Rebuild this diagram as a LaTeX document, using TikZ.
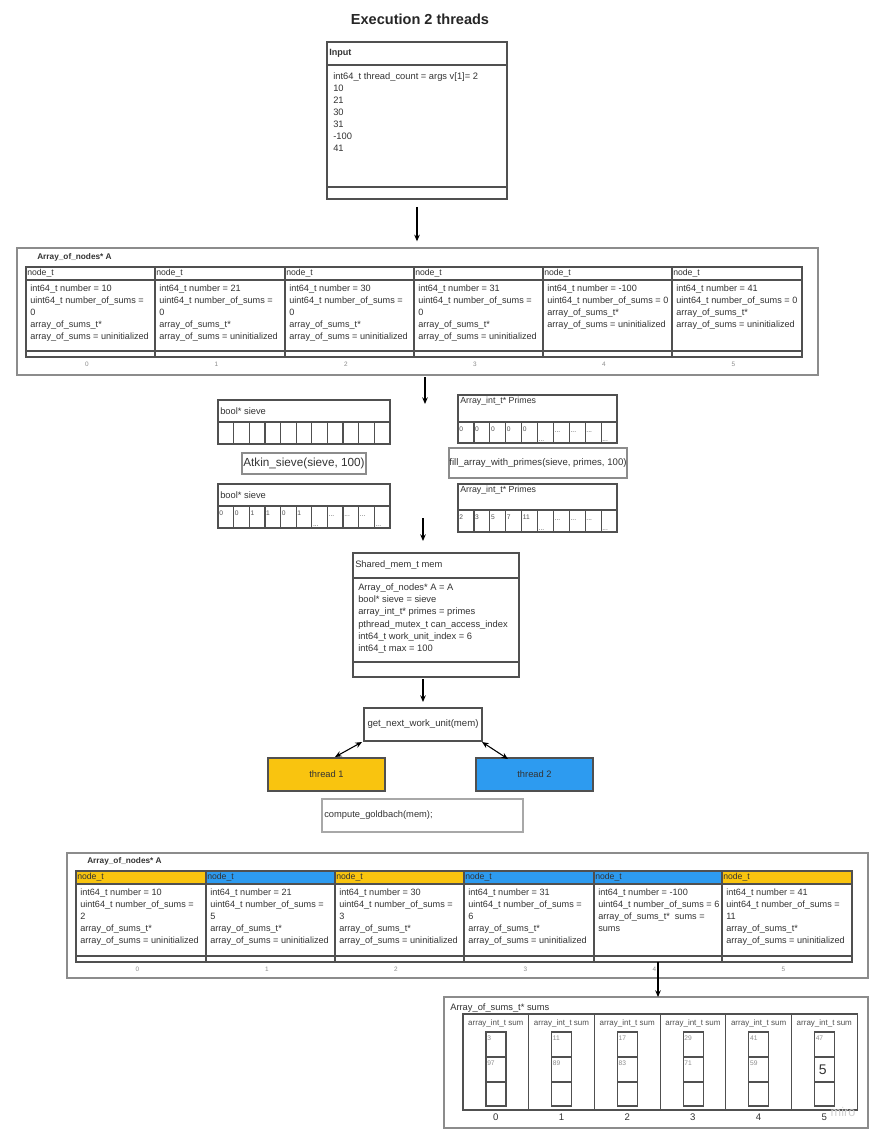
\documentclass[tikz,border=0pt]{standalone}
\usepackage{fontspec}
\setmainfont{Liberation Sans}
\usetikzlibrary{calc,arrows.meta}

\definecolor{ink}{HTML}{333333}
\definecolor{rule}{HTML}{505050}
\definecolor{softrule}{HTML}{8C8C8C}
\definecolor{faint}{HTML}{A8A8A8}
\definecolor{tyellow}{HTML}{F9C40F}
\definecolor{tblue}{HTML}{2D9BF0}

\newcommand{\fs}[2]{\fontsize{#1pt}{#2pt}\selectfont}
\newcommand{\dd}{...}

\tikzset{
  bx/.style={draw=rule, line width=1pt, inner sep=0pt, outer sep=0pt, anchor=north west},
  softbx/.style={draw=softrule, line width=0.9pt},
  btxt/.style={anchor=north west, inner sep=0pt, align=left, text=ink, font=\fs{6.85}{9.1}},
  lbl/.style={anchor=west, inner sep=0pt, text=ink, font=\fs{7}{8.4}},
  boldlbl/.style={anchor=west, inner sep=0pt, text=ink, font=\bfseries\fs{6.2}{7.4}},
  hdr/.style={anchor=west, inner sep=0pt, text=ink, font=\fs{6.5}{7.8}},
  idx/.style={inner sep=0pt, text=softrule, font=\fs{4.8}{5.5}},
  celltxt/.style={anchor=west, inner sep=0pt, text=rule, font=\fs{5}{6}},
  sumlbl/.style={inner sep=0pt, text=rule, font=\fs{6}{7}},
  arr/.style={draw=black, line width=0.8pt, -{Stealth[length=5pt,width=4.2pt]}},
  dblarr/.style={draw=black, line width=0.8pt, {Stealth[length=5pt,width=4.2pt]}-{Stealth[length=5pt,width=4.2pt]}},
}

% box with its top-left corner at (x,y), size in px
\newcommand{\boxat}[6][]{%
  \node[bx,#1,minimum width={(#5)*0.75pt},minimum height={(#6)*0.75pt}] (#2) at (#3,#4) {};}

% one node_t record: name, x, width, header top, header fill, index, body height, body text
\newcommand{\nodecol}[8]{%
  \boxat[fill=#5,line width=1.15pt]{#1h}{#2}{#4}{#3}{13}
  \node[hdr] at ($(#1h.west)+(1,0)$) {node\_t};
  \boxat[line width=1.15pt]{#1b}{#2}{#4+13}{#3}{#7}
  \boxat[line width=1.15pt]{#1f}{#2}{#4+13+#7}{#3}{6}
  \node[btxt] at (#2+4,#4+17.5) {#8};
  \node[idx] at ($(#1f.south)+(-3.5,7)$) {#6};
}

% a row of array cells: prefix, x, y, cell width, cell height, value/offset list
\newcommand{\cellrow}[6]{%
  \foreach \v/\dy [count=\i] in {#6} {
    \node[bx,softbx,draw=rule,minimum width={(#4)*0.75pt},minimum height={(#5)*0.75pt}]
      (#1\i) at ({#2+(\i-1)*#4},#3) {};
    \node[celltxt] at ({#2+(\i-1)*#4+1},{#3+\dy}) {\v};
  }
}

% one array_int_t sum column: name, x, index, first value, second value
\newcommand{\sumcol}[5]{%
  \boxat[draw=rule,line width=0.9pt]{#1}{#2}{1014}{65.7}{96}
  \node[sumlbl] at (#2+32.8,1023) {array\_int\_t sum};
  \boxat[draw=rule,line width=0.9pt]{#1a}{#2+23}{1032}{20}{25}
  \boxat[draw=rule,line width=0.9pt]{#1b}{#2+23}{1057}{20}{25}
  \boxat[draw=rule,line width=0.9pt]{#1c}{#2+23}{1082}{20}{24}
  \node[celltxt,text=softrule] at ($(#1a.north west)+(1,6)$) {#4};
  \node[celltxt,text=softrule] at ($(#1b.north west)+(1,6)$) {#5};
  \node[inner sep=0pt,text=ink,font=\fs{7.2}{8}] at (#2+32.8,1117) {#3};
}

\begin{document}
\begin{tikzpicture}[x=0.75pt,y=-0.75pt]
\fill[white] (0,0) rectangle (878,1137);
\useasboundingbox (0,0) rectangle (878,1137);

% title
\node[inner sep=0pt,text=black!85,font=\bfseries\fs{10.9}{13}] (title) at (420,19) {Execution 2 threads};

% input record
\boxat{inh}{327}{42}{180}{23}
\boxat{inb}{327}{65}{180}{122}
\boxat{inf}{327}{187}{180}{12}
\node[boldlbl,font=\bfseries\fs{6.8}{8}] (inlbl) at (329,53) {Input};
\node[btxt,font=\fs{7}{9}] (intxt) at (333,72.5) {int64\_t thread\_count = args v[1]= 2\\10\\21\\30\\31\\-100\\41};

% first node array
\boxat[softbx]{frameA}{17}{248}{801}{127}
\node[boldlbl] (labelA) at (37,257) {Array\_of\_nodes* A};
\nodecol{A0}{26}{129}{267}{white}{0}{71}{int64\_t number = 10\\uint64\_t number\_of\_sums =\\0\\array\_of\_sums\_t*\\array\_of\_sums = uninitialized}
\nodecol{A1}{155}{130}{267}{white}{1}{71}{int64\_t number = 21\\uint64\_t number\_of\_sums =\\0\\array\_of\_sums\_t*\\array\_of\_sums = uninitialized}
\nodecol{A2}{285}{129}{267}{white}{2}{71}{int64\_t number = 30\\uint64\_t number\_of\_sums =\\0\\array\_of\_sums\_t*\\array\_of\_sums = uninitialized}
\nodecol{A3}{414}{129}{267}{white}{3}{71}{int64\_t number = 31\\uint64\_t number\_of\_sums =\\0\\array\_of\_sums\_t*\\array\_of\_sums = uninitialized}
\nodecol{A4}{543}{129}{267}{white}{4}{71}{int64\_t number = -100\\uint64\_t number\_of\_sums = 0\\array\_of\_sums\_t*\\array\_of\_sums = uninitialized}
\nodecol{A5}{672}{130}{267}{white}{5}{71}{int64\_t number = 41\\uint64\_t number\_of\_sums = 0\\array\_of\_sums\_t*\\array\_of\_sums = uninitialized}

\draw[arr,shorten <=6pt,shorten >=5pt] (inf.south) -- (inf.south |- frameA.north);

% sieve before and after Atkin
\coordinate (sieveIn) at (425,404);
\draw[arr,shorten <=1.5pt] (frameA.south -| sieveIn) -- (sieveIn);

\boxat[softbx,draw=rule]{sieveAh}{218}{400}{172}{22}
\node[lbl] at ($(sieveAh.west)+(2,0)$) {bool* sieve};
\foreach \i in {1,...,11} {
  \node[bx,softbx,draw=rule,minimum width={15.636*0.75pt},minimum height={22*0.75pt}]
    (sieveAc\i) at ({218+(\i-1)*15.636},422) {};
}
\boxat[softbx,draw=softrule,line width=1.2pt]{atkin}{242}{453}{124}{21}
\node[inner sep=0pt,text=ink,font=\fs{8.8}{10}] at (atkin.center) {Atkin\_sieve(sieve, 100)};
\boxat[softbx,draw=rule]{sieveBh}{218}{484}{172}{22}
\node[lbl] at ($(sieveBh.west)+(2,0)$) {bool* sieve};
\cellrow{sieveBc}{218}{506}{15.636}{22}{0/7,0/7,1/7,1/7,0/7,1/7,\dd/20,\dd/10,\dd/10,\dd/10,\dd/20}

% primes before and after filling
\boxat[softbx,draw=rule]{primesAh}{458}{395}{159}{27}
\node[lbl,font=\fs{6.6}{8}] at ($(primesAh.north west)+(2,6)$) {Array\_int\_t* Primes};
\cellrow{primesAc}{458}{422}{15.9}{21}{0/7,0/7,0/7,0/7,0/7,\dd/19,\dd/10,\dd/10,\dd/10,\dd/19}
\boxat[softbx,draw=softrule,line width=1.2pt]{fill}{449}{448}{178}{30}
\node[inner sep=0pt,text=ink,font=\fs{7.2}{8.5}] at (fill.center) {fill\_array\_with\_primes(sieve, primes, 100)};
\boxat[softbx,draw=rule]{primesBh}{458}{484}{159}{26}
\node[lbl,font=\fs{6.6}{8}] at ($(primesBh.north west)+(2,6)$) {Array\_int\_t* Primes};
\cellrow{primesBc}{458}{510}{15.9}{22}{2/7,3/7,5/7,7/7,11/7,\dd/20,\dd/10,\dd/10,\dd/10,\dd/20}

% shared memory record
\boxat[softbx,draw=rule]{memh}{353}{553}{166}{25}
\boxat[softbx,draw=rule]{memb}{353}{578}{166}{84}
\boxat[softbx,draw=rule]{memf}{353}{662}{166}{15}
\node[lbl] at ($(memh.west)+(2,0)$) {Shared\_mem\_t mem};
\node[btxt,font=\fs{7}{9.15}] (memtxt) at (358,583.5) {Array\_of\_nodes* A = A\\bool* sieve = sieve\\array\_int\_t* primes = primes\\pthread\_mutex\_t can\_access\_index\\int64\_t work\_unit\_index = 6\\int64\_t max = 100};

\coordinate (memIn) at (423,518);
\draw[arr,shorten >=9pt] (memIn) -- (memIn |- memh.north);

% work distribution
\boxat[softbx,draw=rule]{gnw}{364}{708}{118}{33}
\node[inner sep=0pt,text=ink,font=\fs{7.2}{8.5}] at (gnw.center) {get\_next\_work\_unit(mem)};
\draw[arr,shorten <=1.5pt,shorten >=4.5pt] (gnw.north |- memf.south) -- (gnw.north);

\boxat[fill=tyellow,draw=rule]{t1}{268}{758}{117}{33}
\node[inner sep=0pt,text=ink,font=\fs{7}{8}] at (t1.center) {thread 1};
\boxat[fill=tblue,draw=rule]{t2}{476}{758}{117}{33}
\node[inner sep=0pt,text=ink,font=\fs{7}{8}] at (t2.center) {thread 2};
\draw[dblarr] ($(gnw.south west)+(-2,1)$) -- ($(t1.north)+(8.5,-1)$);
\draw[dblarr] ($(gnw.south east)+(0,1)$) -- ($(t2.north)+(-26.5,1)$);

\boxat[draw=faint,line width=1pt]{cg}{322}{799}{201}{33}
\node[lbl] at ($(cg.west)+(2,0)$) {compute\_goldbach(mem);};

% node array after the threads finish
\boxat[softbx]{frameB}{67}{853}{801}{125}
\node[boldlbl] (labelB) at (87,861) {Array\_of\_nodes* A};
\nodecol{B0}{76}{130}{871}{tyellow}{0}{72}{int64\_t number = 10\\uint64\_t number\_of\_sums =\\2\\array\_of\_sums\_t*\\array\_of\_sums = uninitialized}
\nodecol{B1}{206}{129}{871}{tblue}{1}{72}{int64\_t number = 21\\uint64\_t number\_of\_sums =\\5\\array\_of\_sums\_t*\\array\_of\_sums = uninitialized}
\nodecol{B2}{335}{129}{871}{tyellow}{2}{72}{int64\_t number = 30\\uint64\_t number\_of\_sums =\\3\\array\_of\_sums\_t*\\array\_of\_sums = uninitialized}
\nodecol{B3}{464}{130}{871}{tblue}{3}{72}{int64\_t number = 31\\uint64\_t number\_of\_sums =\\6\\array\_of\_sums\_t*\\array\_of\_sums = uninitialized}
\nodecol{B4}{594}{128}{871}{tblue}{4}{72}{int64\_t number = -100\\uint64\_t number\_of\_sums = 6\\array\_of\_sums\_t*\ \ sums =\\sums}
\nodecol{B5}{722}{130}{871}{tyellow}{5}{72}{int64\_t number = 41\\uint64\_t number\_of\_sums =\\11\\array\_of\_sums\_t*\\array\_of\_sums = uninitialized}

% sums array
\boxat[softbx]{sums}{444}{997}{424}{131}
\node[lbl] (sumslbl) at (450,1008) {Array\_of\_sums\_t* sums};
\draw[arr] (B4f.south) -- (B4f.south |- sums.north);

\sumcol{S0}{463}{0}{3}{97}
\sumcol{S1}{528.7}{1}{11}{89}
\sumcol{S2}{594.4}{2}{17}{83}
\sumcol{S3}{660.1}{3}{29}{71}
\sumcol{S4}{725.8}{4}{41}{59}
\sumcol{S5}{791.5}{5}{47}{}
\node[inner sep=0pt,text=ink,font=\fs{10.5}{12}] at ($(S5b.west)+(4,0)$) [anchor=west] {5};

\node[inner sep=0pt,text=black!18,font=\fs{9.5}{11}] (brand) at (843,1112) {miro};
\end{tikzpicture}
\end{document}
